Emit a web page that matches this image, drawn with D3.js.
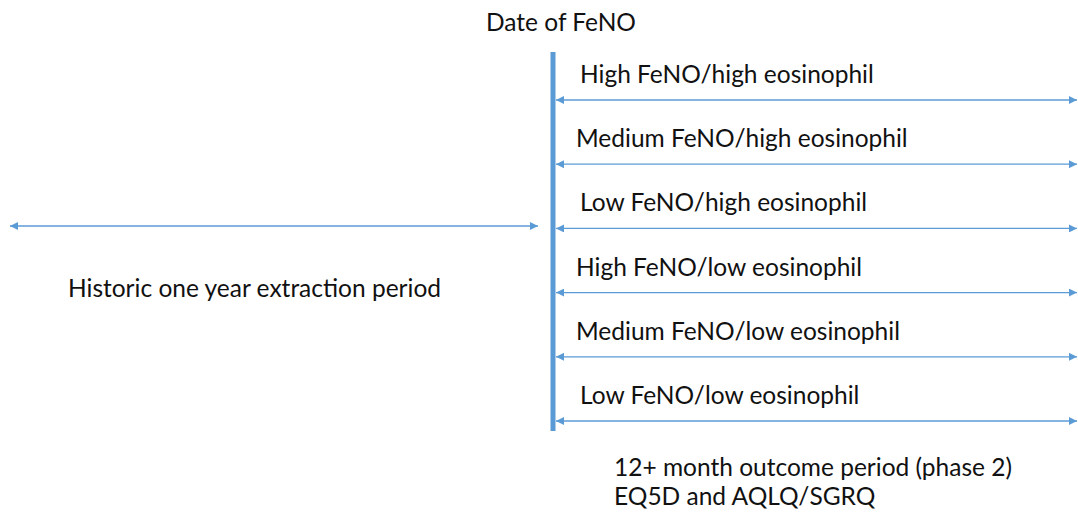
<!DOCTYPE html>
<html><head><meta charset="utf-8">
<script src="https://cdn.jsdelivr.net/npm/d3@7"></script>
<style>body{margin:0;background:#fff}svg{display:block}text{font-family:Lato,"Open Sans",sans-serif;fill:#111}</style>
</head><body><svg id="c" width="1078" height="513"></svg>
<script>
const groups = ["High FeNO/high eosinophil","Medium FeNO/high eosinophil","Low FeNO/high eosinophil","High FeNO/low eosinophil","Medium FeNO/low eosinophil","Low FeNO/low eosinophil"];
const periodMonths = [-12, 0, 12];
const titleText = "Date of FeNO";
const historicText = "Historic one year extraction period";
const outcomeText = ["12+ month outcome period (phase 2)","EQ5D and AQLQ/SGRQ"];

const svg = d3.select("#c");
const col = "#5B9BD5";
const fs = 24.5;
const x = d3.scaleLinear().domain(periodMonths).range([10, 553, 1077]);
const y = d3.scalePoint().domain(groups).range([100, 421]);

svg.append("defs").append("marker").attr("id","ah").attr("viewBox","0 0 10 10")
  .attr("refX",10).attr("refY",5).attr("markerWidth",8).attr("markerHeight",8)
  .attr("markerUnits","userSpaceOnUse").attr("orient","auto-start-reverse")
  .append("path").attr("d","M0,0L10,5L0,10Z").attr("fill",col);

// vertical date line
svg.append("line").attr("x1",x(0)).attr("x2",x(0)).attr("y1",52).attr("y2",431)
  .attr("stroke",col).attr("stroke-width",5);

// right arrows
svg.selectAll(".ra").data(groups).join("line").attr("class","ra")
  .attr("x1",x(0)+3).attr("x2",x(12)).attr("y1",d=>y(d)).attr("y2",d=>y(d))
  .attr("stroke",col).attr("stroke-width",1.3)
  .attr("marker-start","url(#ah)").attr("marker-end","url(#ah)");

svg.selectAll(".gl").data(groups).join("text").attr("class","gl")
  .attr("x",d=> d.startsWith("Medium")||d.startsWith("High FeNO/low") ? 576 : 580)
  .attr("y",d=>y(d)-17).attr("font-size",fs).text(d=>d);

// left arrow
svg.append("line").attr("x1",x(-12)).attr("x2",x(0)-15).attr("y1",226).attr("y2",226)
  .attr("stroke",col).attr("stroke-width",1.3)
  .attr("marker-start","url(#ah)").attr("marker-end","url(#ah)");

svg.append("text").attr("x",x(0)+8).attr("y",31).attr("text-anchor","middle").attr("font-size",fs).text(titleText);
svg.append("text").attr("x",68).attr("y",297).attr("font-size",fs).text(historicText);
svg.selectAll(".ot").data(outcomeText).join("text").attr("class","ot")
  .attr("x",614).attr("y",(d,i)=>476+i*29).attr("font-size",fs).text(d=>d);
</script></body></html>
